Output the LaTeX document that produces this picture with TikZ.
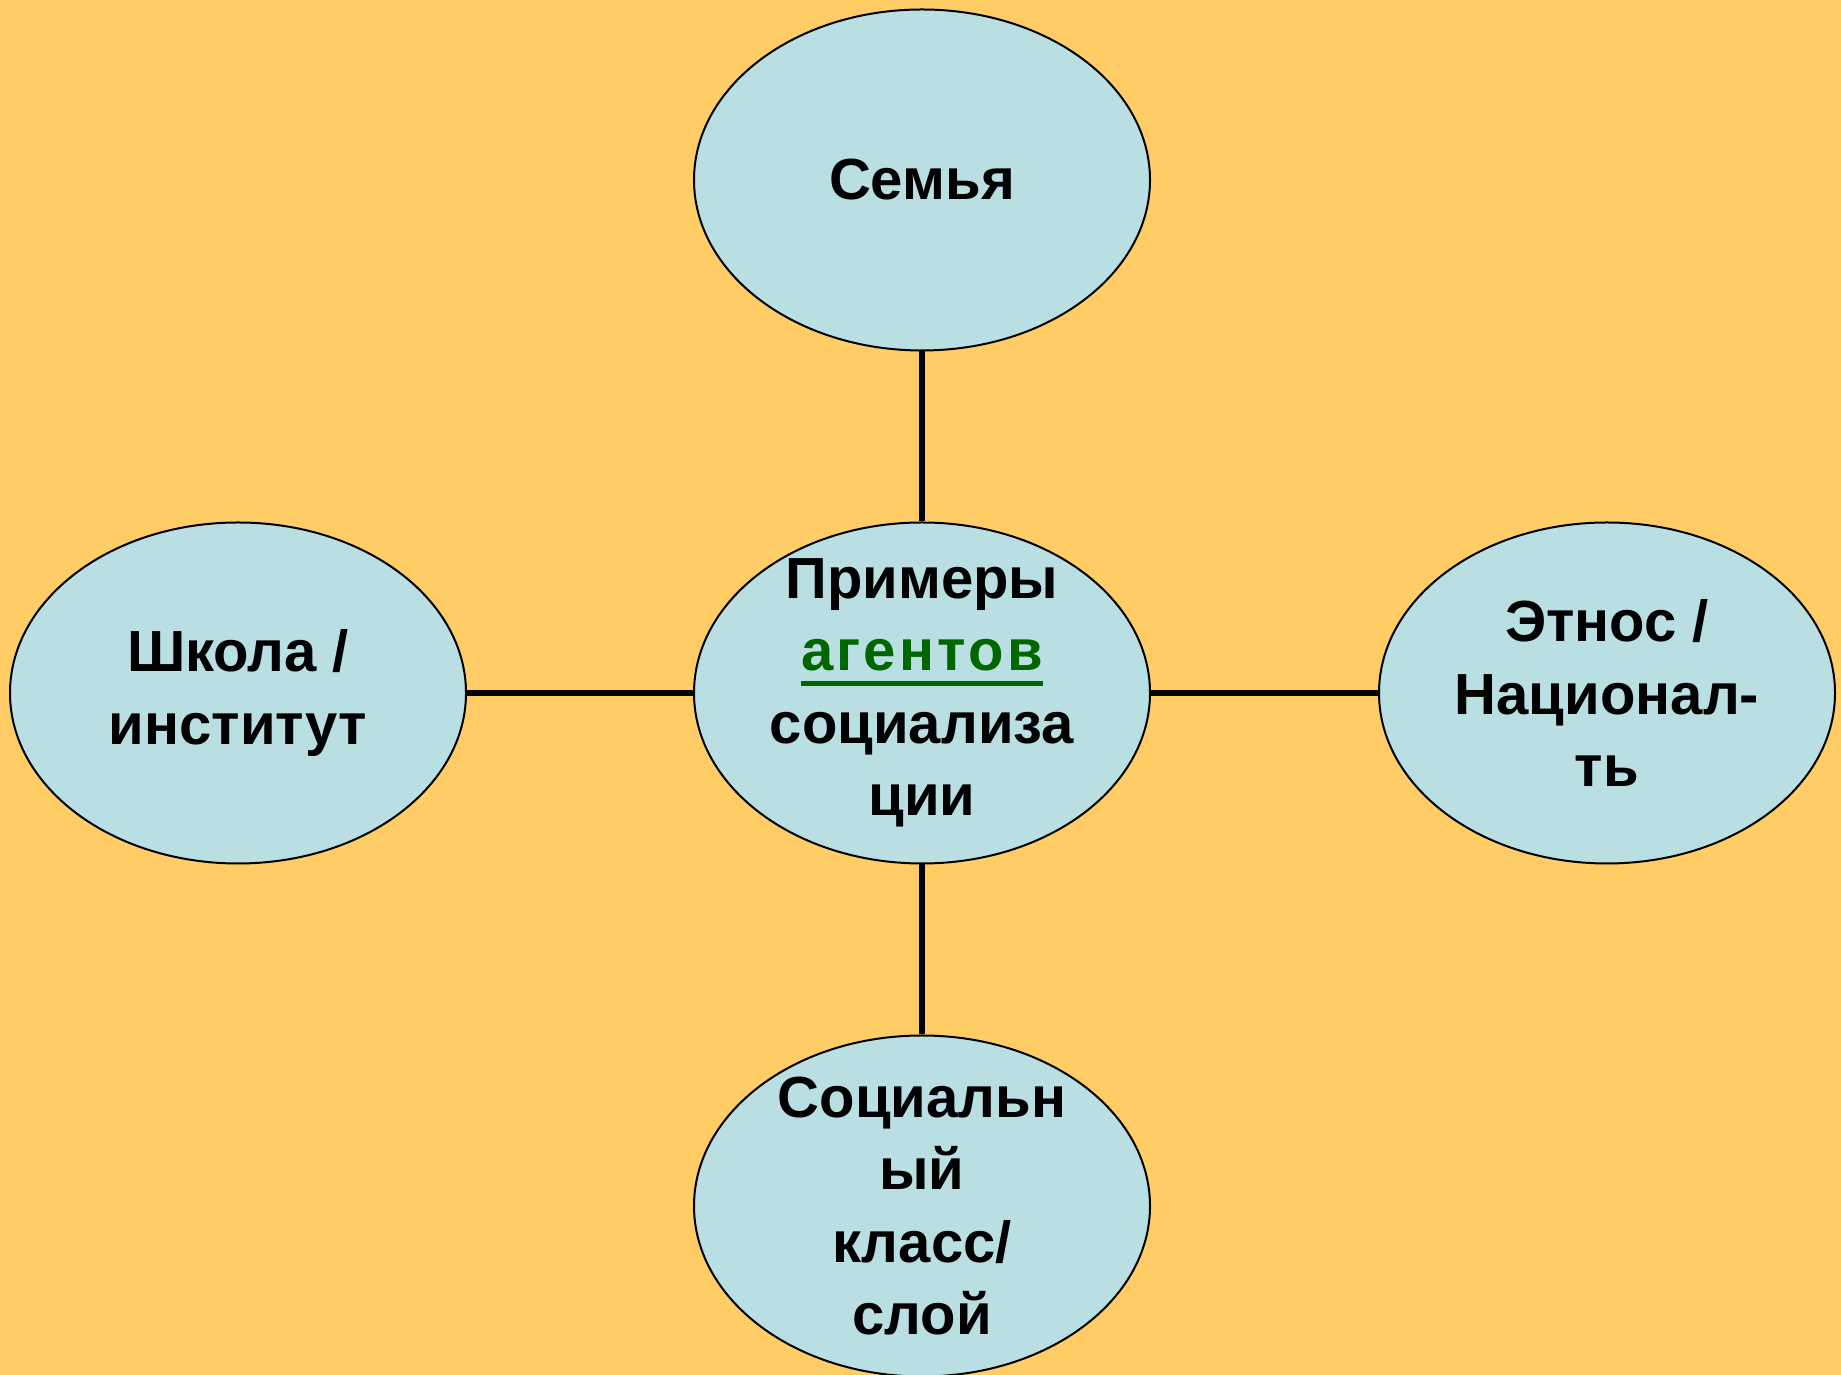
\documentclass[tikz,border=0pt]{standalone}
\usepackage{fontspec}
\setmainfont{Liberation Sans}
\usetikzlibrary{shapes.geometric}
\definecolor{bg}{HTML}{FFCC66}
\definecolor{ellfill}{HTML}{B9DFE3}
\definecolor{agent}{HTML}{006600}
\newcommand\greenul[1]{\setbox0\hbox{#1}\rlap{\rule[-15pt]{\wd0}{4.5pt}}\box0}
\tikzset{
  agentell/.style={ellipse, draw=black, line width=2pt, fill=ellfill, minimum width=456pt, minimum height=341pt, inner sep=0pt},
  agenttext/.style={align=center, font=\fontsize{58}{72.5}\selectfont\bfseries, text=black},
  link/.style={line width=5.5pt, draw=black}
}
\begin{document}
\begin{tikzpicture}[x=1pt,y=1pt]
\fill[bg] (0,0) rectangle (1841,1375);
\useasboundingbox (0,0) rectangle (1841,1375);
\node[agentell] (top) at (922,1195) {};
\node[agentell] (mid) at (922,682) {};
\node[agentell] (left) at (238,682) {};
\node[agentell] (right) at (1607,682) {};
\node[agentell] (bot) at (922,169) {};
\draw[link] (top) -- (mid);
\draw[link] (left) -- (mid);
\draw[link] (mid) -- (right);
\draw[link] (mid) -- (bot);
\node[agenttext] (ttop) at (top.center) {Семья};
\node[agenttext] (tmid) at (mid.center) {Примеры\\{\color{agent}\addfontfeatures{LetterSpace=5.5}\greenul{агентов}}\\социализа\\ции};
\node[agenttext] (tleft) at (left.center) {Школа /\\институт};
\node[agenttext] (tright) at (right.center) {Этнос /\\Национал-\\ть};
\node[agenttext] (tbot) at (bot.center) {Социальн\\ый\\класс/\\слой};
\end{tikzpicture}
\end{document}
